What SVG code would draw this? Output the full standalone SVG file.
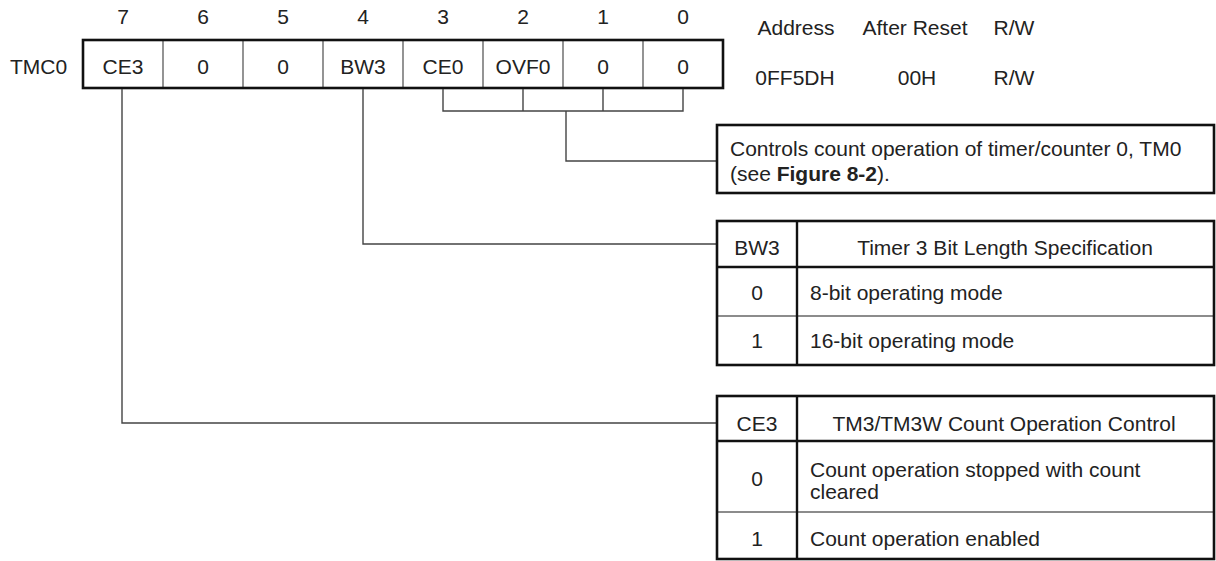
<svg xmlns="http://www.w3.org/2000/svg" width="1216" height="561" viewBox="0 0 1216 561">
<style>
text{font-family:"Liberation Sans",Arial,sans-serif;font-size:21px;fill:#222}
.c{text-anchor:middle}
.thick{fill:none;stroke:#111;stroke-width:2.6}
.thin{fill:none;stroke:#666;stroke-width:1.4}
.conn{fill:none;stroke:#444;stroke-width:1.4}
.hdr{fill:none;stroke:#111;stroke-width:2.4}
</style>
<rect width="1216" height="561" fill="#fff"/>
<g id="bit-numbers">
<text class="c" x="123" y="24">7</text>
<text class="c" x="203" y="24">6</text>
<text class="c" x="283" y="24">5</text>
<text class="c" x="363" y="24">4</text>
<text class="c" x="443" y="24">3</text>
<text class="c" x="523" y="24">2</text>
<text class="c" x="603" y="24">1</text>
<text class="c" x="683" y="24">0</text>
</g>
<g id="register">
<text x="10" y="74">TMC0</text>
<line class="thin" x1="163" y1="40" x2="163" y2="88"/>
<line class="thin" x1="243" y1="40" x2="243" y2="88"/>
<line class="thin" x1="323" y1="40" x2="323" y2="88"/>
<line class="thin" x1="403" y1="40" x2="403" y2="88"/>
<line class="thin" x1="483" y1="40" x2="483" y2="88"/>
<line class="thin" x1="563" y1="40" x2="563" y2="88"/>
<line class="thin" x1="643" y1="40" x2="643" y2="88"/>
<rect class="thick" x="83" y="40" width="640" height="48"/>
<text class="c" x="123" y="74">CE3</text>
<text class="c" x="203" y="74">0</text>
<text class="c" x="283" y="74">0</text>
<text class="c" x="363" y="74">BW3</text>
<text class="c" x="443" y="74">CE0</text>
<text class="c" x="523" y="74">OVF0</text>
<text class="c" x="603" y="74">0</text>
<text class="c" x="683" y="74">0</text>
</g>
<g id="info">
<text class="c" x="796" y="35">Address</text>
<text class="c" x="915" y="35">After Reset</text>
<text class="c" x="1014" y="35">R/W</text>
<text class="c" x="795" y="85">0FF5DH</text>
<text class="c" x="917" y="85">00H</text>
<text class="c" x="1014" y="85">R/W</text>
</g>
<g id="connectors">
<polyline class="conn" points="443,89 443,111 683,111 683,89"/>
<line class="conn" x1="523" y1="89" x2="523" y2="111"/>
<line class="conn" x1="603" y1="89" x2="603" y2="111"/>
<polyline class="conn" points="566,111 566,161 717,161"/>
<polyline class="conn" points="363,89 363,244 717,244"/>
<polyline class="conn" points="122,89 122,423 717,423"/>
</g>
<g id="ce0-desc">
<rect class="thick" x="717" y="125" width="497" height="68"/>
<text x="730" y="156">Controls count operation of timer/counter 0, TM0</text>
<text x="730" y="181">(see <tspan font-weight="bold">Figure 8-2</tspan>).</text>
</g>
<g id="bw3-table">
<line class="thin" x1="717" y1="316" x2="1214" y2="316"/>
<line class="hdr" x1="717" y1="267" x2="1214" y2="267"/>
<line class="hdr" x1="797" y1="221" x2="797" y2="365"/>
<rect class="thick" x="717" y="221" width="497" height="144"/>
<text class="c" x="757" y="255">BW3</text>
<text class="c" x="1005" y="255">Timer 3 Bit Length Specification</text>
<text class="c" x="757" y="300">0</text>
<text x="810" y="300">8-bit operating mode</text>
<text class="c" x="757" y="348">1</text>
<text x="810" y="348">16-bit operating mode</text>
</g>
<g id="ce3-table">
<line class="thin" x1="717" y1="512" x2="1214" y2="512"/>
<line class="hdr" x1="717" y1="441" x2="1214" y2="441"/>
<line class="hdr" x1="797" y1="396" x2="797" y2="559"/>
<rect class="thick" x="717" y="396" width="497" height="163"/>
<text class="c" x="757" y="431">CE3</text>
<text class="c" x="1004" y="431">TM3/TM3W Count Operation Control</text>
<text class="c" x="757" y="486">0</text>
<text x="810" y="477">Count operation stopped with count</text>
<text x="810" y="499">cleared</text>
<text class="c" x="757" y="546">1</text>
<text x="810" y="546">Count operation enabled</text>
</g>
</svg>
